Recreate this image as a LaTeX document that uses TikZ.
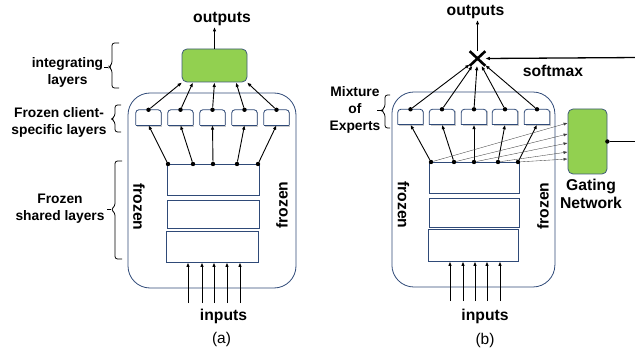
\documentclass[tikz,border=0pt]{standalone}
\usepackage{fontspec}
\setmainfont{Liberation Sans}
\usetikzlibrary{arrows.meta,shapes.misc,shadows}
\definecolor{navy}{HTML}{2F4A78}
\definecolor{ggreen}{HTML}{92D050}
\definecolor{gedge}{HTML}{3F5A78}
\tikzset{
 lbl/.style={font=\fontsize{13.8}{17}\selectfont\bfseries, align=center, inner sep=0pt},
 big/.style={font=\fontsize{15.7}{18}\selectfont\bfseries, align=center, inner sep=1pt},
 captxt/.style={font=\fontsize{15.5}{18}\selectfont, inner sep=1pt},
 cont/.style={draw=navy, line width=0.8pt, rounded corners=22pt},
 layer/.style={draw=navy, line width=0.9pt, fill=white},
 expert/.style={fill=white, minimum width=25pt, minimum height=15pt, inner sep=0pt,
   drop shadow={shadow xshift=1.2pt, shadow yshift=-1.6pt, fill=black!40}},
 explr/.style={draw=navy, line width=0.8pt, rounded corners=3pt},
 gbox/.style={draw=gedge, fill=ggreen, rounded corners=5pt, line width=0.8pt},
 dot/.style={circle, fill=black, inner sep=0pt, minimum size=4.4pt},
 arr/.style={-{Latex[length=4.5pt,width=3.6pt]}, line width=0.9pt},
 tarr/.style={-{Latex[length=4pt,width=3pt]}, line width=0.35pt, draw=black!75},
 brk/.style={line width=0.8pt, rounded corners=2.5pt},
 tick/.style={line width=0.9pt}
}
\begin{document}
\begin{tikzpicture}[x=1pt,y=-1pt]
\useasboundingbox (0,0) rectangle (635,350);

% ================= panel (a) =================
\node[cont, minimum width=168pt, minimum height=195pt] (ca) at (212,190.5) {};
\node[layer, minimum width=92pt, minimum height=31pt] (a1) at (213,179.5) {};
\node[layer, minimum width=92pt, minimum height=28pt] (a2) at (213,214) {};
\node[layer, minimum width=92pt, minimum height=31pt] (a3) at (212,246.5) {};

\foreach \i/\x in {1/148.5,2/180.5,3/212.5,4/244.5,5/276.5}{
  \node[expert] (ea\i) at (\x,117.5) {};
  \draw[explr] (ea\i.south west) |- (ea\i.north) -| (ea\i.south east);
  \draw[navy, line width=0.8pt] (ea\i.south west) -- (ea\i.south east);
  \node[dot] (ta\i) at (ea\i.north) {};
}
\foreach \i/\x in {1/168,2/193,3/213,4/237,5/258}
  \node[dot] (da\i) at (\x,164) {};
\foreach \i in {1,...,5}
  \draw[arr] (da\i) -- (ea\i.south);

\node[gbox, minimum width=65pt, minimum height=33pt] (ga) at (214.5,65.5) {};
\foreach \i/\s in {1/-32.5,2/-21.5,3/0,4/21.5,5/32.5}
  \draw[arr] (ta\i) -- ([xshift=\s pt]ga.south);

\node[big] (oa) at (222,19) {outputs};
\draw[arr] (ga.north) -- (ga.north |- oa.south);

\foreach \i/\x in {1/188,2/202,3/214,4/227,5/240}{
  \coordinate (ia\i) at (\x,303);
  \draw[arr] (ia\i) -- (ia\i |- a3.south);
}
\node[big] (ina) at (223.5,316) {inputs};
\node[captxt] (capa) at (221.5,339) {(a)};
\node[big, rotate=-90] (fa1) at (139,207) {frozen};
\node[big, rotate=90] (fa2) at (282,205) {frozen};

% labels + braces (a)
\node[lbl] (l1) at (67.5,72) {integrating\\layers};
\draw[brk] (119,43) -- (112,43) -- (112,64) -- (109,67) -- (112,70) -- (112,88) -- (119,88);
\draw[tick] (108,67) -- (103.5,67);
\node[lbl] (l2) at (59,122) {Frozen client-\\specific layers};
\draw[brk] (121,105) -- (115,105) -- (115,116) -- (111.5,119) -- (115,122) -- (115,132) -- (121,132);
\node[lbl] (l3) at (60,209) {Frozen\\shared layers};
\draw[brk] (122,161) -- (115,161) -- (115,206) -- (111,209.5) -- (115,213) -- (115,259) -- (122,259);
\draw[tick] (111,209.5) -- (107,209.5);

% ================= panel (b) =================
\node[cont, minimum width=163pt, minimum height=195pt] (cb) at (473.4,189.5) {};
\node[layer, minimum width=90pt, minimum height=31pt] (b1) at (474,177.5) {};
\node[layer, minimum width=90pt, minimum height=29pt] (b2) at (474,212.5) {};
\node[layer, minimum width=90pt, minimum height=32pt] (b3) at (473,245) {};

\foreach \i/\x in {1/410.5,2/442,3/474,4/505,5/537}{
  \node[expert] (eb\i) at (\x,117) {};
  \draw[explr] (eb\i.south west) |- (eb\i.north) -| (eb\i.south east);
  \draw[navy, line width=0.8pt] (eb\i.south west) -- (eb\i.south east);
  \node[dot] (tb\i) at (eb\i.north) {};
}
\foreach \i/\x in {1/431,2/454,3/474,4/498,5/518}
  \node[dot] (db\i) at (\x,162) {};
\foreach \i in {1,...,5}
  \draw[arr] (db\i) -- (eb\i.south);

\node[draw, cross out, line width=2.6pt, minimum width=13pt, minimum height=12pt, inner sep=0pt] (mix) at (477.5,58.5) {};
\foreach \i in {1,...,5}
  \draw[arr] (tb\i) -- (mix);
\node[big] (ob) at (475.5,12) {outputs};
\draw[arr] (mix.north) -- (mix.north |- ob.south);

\node[gbox, minimum width=39pt, minimum height=65pt] (gate) at (587.5,141.5) {};
\foreach \i/\s in {1/18.5,2/7.5,3/-1.5,4/-10.5,5/-17.5}
  \draw[tarr] (db\i) -- ([yshift=\s pt]gate.west);
\node[dot] (gd) at (gate.east) {};
\coordinate (rg) at (640,141.5);
\draw[line width=1.3pt] (gd) -- (rg);
\coordinate (rs) at (640,57.5);
\draw[arr, line width=1.3pt] (rs) -- (mix.east);
\node[big] (sm) at (553,71) {softmax};
\node[big] (gn) at (591,194) {Gating\\Network};

\foreach \i/\x in {1/450,2/463,3/475,4/487,5/500}{
  \coordinate (ib\i) at (\x,301);
  \draw[arr] (ib\i) -- (ib\i |- b3.south);
}
\node[big] (inb) at (485,316) {inputs};
\node[captxt] (capb) at (485,340) {(b)};
\node[big, rotate=-90] (fb1) at (403.5,205) {frozen};
\node[big, rotate=90] (fb2) at (543,206) {frozen};

\node[lbl] (l4) at (355,110) {Mixture\\of\\Experts};
\draw[brk] (390,95) -- (385,95) -- (385,107) -- (381.5,110.5) -- (385,114) -- (385,128) -- (390,128);
\draw[tick] (381.5,110.5) -- (377,110.5);
\end{tikzpicture}
\end{document}
